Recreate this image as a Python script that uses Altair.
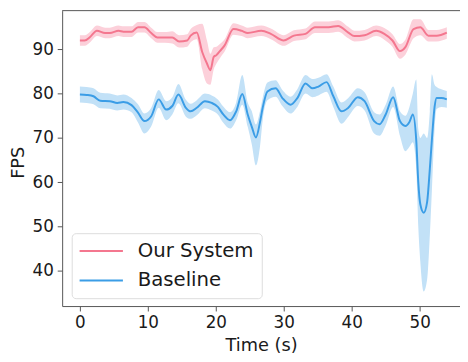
import altair as alt
import pandas as pd

# ---- data ----
series_names = ["Our System", "Baseline"]

ours_t = [0, 0.7, 1.5, 2.5, 3.7, 4.4, 5.7, 6.4, 7.6, 8.55, 9.5, 10.5, 11.4, 12.5, 13.6,
          14.6, 15.8, 16.3, 17.2, 18.0, 18.7, 19.2, 19.7, 20.1, 20.6, 21.3, 22.6, 23.8,
          24.7, 26.7, 28.1, 30.0, 31.5, 33.2, 34.6, 36.6, 38.0, 39.5, 40.4, 41.9, 43.6,
          44.8, 46.0, 47.1, 47.9, 49.1, 50.1, 51.3, 52.5, 54.0]
ours_mean = [92.0, 92.0, 92.8, 94.2, 93.7, 93.7, 94.2, 94.0, 94.0, 95.0, 95.0, 93.7, 92.7, 92.7, 92.7,
             91.8, 92.0, 93.1, 93.8, 89.4, 86.8, 85.3, 88.3, 88.7, 89.6, 90.9, 94.6, 94.2,
             93.7, 94.2, 93.5, 92.0, 93.1, 93.5, 95.0, 95.0, 95.3, 93.8, 93.0, 93.2, 94.2,
             93.5, 92.0, 89.6, 90.5, 94.6, 95.0, 93.1, 93.1, 93.8]
ours_lo = [90.8, 90.8, 91.6, 93.0, 92.5, 92.5, 93.0, 92.8, 92.8, 93.8, 93.8, 92.5, 91.5, 91.5, 91.3,
           90.4, 90.6, 91.6, 92.3, 85.5, 82.3, 82.0, 85.5, 86.8, 88.0, 89.5, 93.3, 93.0,
           92.5, 93.0, 92.3, 90.8, 91.9, 92.3, 93.7, 93.7, 94.0, 92.5, 91.8, 92.0, 93.0,
           92.2, 90.6, 87.9, 88.8, 92.5, 93.2, 91.8, 91.8, 92.4]
ours_hi = [93.2, 93.2, 94.0, 95.4, 94.9, 94.9, 95.4, 95.2, 95.2, 96.2, 96.2, 94.9, 93.9, 93.9, 94.1,
           93.2, 93.4, 94.6, 95.5, 95.8, 92.0, 89.0, 90.5, 90.6, 91.2, 92.3, 95.9, 95.4,
           94.9, 95.4, 94.7, 93.2, 94.3, 94.7, 96.3, 96.3, 96.6, 95.1, 94.2, 94.4, 95.4,
           94.8, 93.4, 91.2, 92.2, 96.8, 96.8, 94.4, 94.4, 95.0]

base_t = [0, 1, 2, 3, 4.4, 5.5, 6.4, 7.6, 8.55, 9.5, 10.5, 11.6, 12.7, 13.6, 14.5, 15.6, 16.3,
          17.2, 18.4, 19.4, 20.3, 21.1, 22.1, 23.0, 23.9, 24.7, 25.3, 25.9, 26.5, 26.9, 27.6,
          28.8, 29.8, 31.0, 32.0, 33.2, 34.2, 35.1, 36.3, 37.3, 38.5, 39.5, 40.9, 41.9, 43.3,
          44.1, 45.0, 46.1, 47.1, 47.9, 48.5, 49.0, 49.5, 49.8, 50.1, 50.6, 51.1, 51.5, 51.8,
          52.2, 52.5, 53.2, 54.0]
base_mean = [79.8, 79.7, 79.4, 78.4, 78.3, 77.9, 78.1, 77.4, 75.7, 73.8, 74.9, 78.7, 76.4, 77.2,
             79.8, 76.8, 76.0, 76.8, 78.3, 77.9, 77.0, 75.3, 74.0, 76.0, 79.9, 75.3, 72.5, 70.1,
             73.5, 76.8, 80.5, 81.2, 79.0, 77.5, 79.0, 82.3, 81.2, 81.6, 82.6, 79.4, 76.0, 76.8,
             79.2, 78.3, 73.8, 73.1, 75.3, 79.2, 73.8, 72.7, 73.6, 75.3, 69.5, 60.0, 55.0, 53.1,
             55.5, 63.0, 69.5, 77.0, 79.0, 79.0, 78.7]
base_lo = [78.0, 77.9, 77.6, 76.7, 76.6, 76.2, 76.4, 75.8, 73.5, 71.0, 72.6, 76.8, 74.0, 75.3,
           77.8, 74.8, 74.3, 75.1, 76.7, 76.2, 75.3, 73.4, 72.1, 74.0, 77.5, 72.5, 68.5, 63.8,
           68.0, 74.0, 78.5, 79.3, 77.2, 75.5, 77.0, 80.0, 79.2, 79.6, 80.4, 77.0, 73.2, 74.8,
           77.2, 76.2, 71.0, 70.5, 72.8, 77.0, 70.5, 67.0, 68.0, 69.0, 63.0, 50.0, 42.0, 35.3,
           38.0, 48.0, 58.0, 72.0, 76.5, 77.0, 76.8]
base_hi = [81.6, 81.5, 81.2, 80.2, 80.0, 79.6, 79.8, 79.0, 77.6, 75.5, 76.8, 80.8, 78.3, 79.2,
           82.2, 78.6, 77.7, 78.5, 80.0, 79.6, 78.7, 77.1, 75.8, 78.0, 84.2, 78.0, 76.0, 73.0,
           76.0, 79.0, 82.5, 83.0, 80.8, 79.3, 81.0, 84.2, 83.3, 83.6, 84.4, 81.6, 78.0, 79.0,
           81.2, 80.3, 75.8, 75.3, 77.5, 81.6, 76.0, 75.0, 77.0, 80.0, 83.2, 72.0, 70.0, 71.0,
           70.0, 76.0, 84.4, 82.0, 81.5, 81.0, 80.6]

x_ticks = [0, 10, 20, 30, 40, 50]
y_ticks = [40, 50, 60, 70, 80, 90]

line_colors = ["#f4778f", "#3b9de6"]
band_colors = ["#fcd0da", "#c2e1f7"]

rows = []
for name, ts, m, lo, hi in [
    (series_names[0], ours_t, ours_mean, ours_lo, ours_hi),
    (series_names[1], base_t, base_mean, base_lo, base_hi),
]:
    for t, a, b, c in zip(ts, m, lo, hi):
        rows.append({"series": name, "t": t, "fps": a, "lo": b, "hi": c})
df = pd.DataFrame(rows)

FONT = "DejaVu Sans"
W, H = 404, 300

x_scale = alt.Scale(domain=[-2.61, 55.94], nice=False, zero=False)
y_scale = alt.Scale(domain=[32.0, 98.75], nice=False, zero=False)

x_enc = alt.X("t:Q", scale=x_scale,
              axis=alt.Axis(values=x_ticks, title="Time (s)", grid=False,
                            titleY=45, titleBaseline="alphabetic"))
y_enc_band = alt.Y("lo:Q", scale=y_scale,
                   axis=alt.Axis(values=y_ticks, title="FPS", grid=False,
                                 titleX=-39, titleY=154, titleAngle=270,
                                 titleBaseline="alphabetic", titleAlign="center"))

base = alt.Chart(df)

band_layers = []
for name, col in zip(series_names, band_colors):
    band_layers.append(
        base.transform_filter(alt.datum.series == name)
        .mark_area(interpolate="monotone", opacity=1, color=col)
        .encode(x=x_enc, y=y_enc_band, y2="hi:Q")
    )

lines = base.mark_line(interpolate="monotone", strokeWidth=2).encode(
    x=alt.X("t:Q", scale=x_scale),
    y=alt.Y("fps:Q", scale=y_scale),
    color=alt.Color("series:N",
                    scale=alt.Scale(domain=series_names, range=line_colors),
                    sort=series_names,
                    legend=alt.Legend(
                        orient="none", legendX=9.7, legendY=226, title=None,
                        symbolType="M-4,0L4,0", symbolSize=121, symbolStrokeWidth=2,
                        symbolOffset=12, labelOffset=27,
                        labelFontSize=20, labelFont=FONT, labelColor="#1a1a1a",
                        padding=8, rowPadding=10,
                        fillColor="white", strokeColor="#dcdcdc", cornerRadius=4)),
)

top_frame = alt.Chart(pd.DataFrame({"k": [0]})).mark_rule(color="#555555", strokeWidth=1).encode(
    x=alt.value(0), x2=alt.value(W), y=alt.value(0)
)

chart = alt.layer(*band_layers, lines, top_frame).properties(
    width=W, height=H,
    autosize=alt.AutoSizeParams(type="none"),
    padding={"left": 55, "top": 0, "right": 0, "bottom": 46},
).configure_view(stroke=None).configure_axis(
    labelFont=FONT, titleFont=FONT, labelFontSize=17, titleFontSize=18,
    labelColor="#1a1a1a", titleColor="#1a1a1a", titleFontWeight="normal",
    domainColor="#555555", tickColor="#555555", domainWidth=1, tickWidth=1,
    tickSize=5, labelPadding=4,
)

chart.save("out.html", embed_options={"renderer": "svg", "actions": False})
